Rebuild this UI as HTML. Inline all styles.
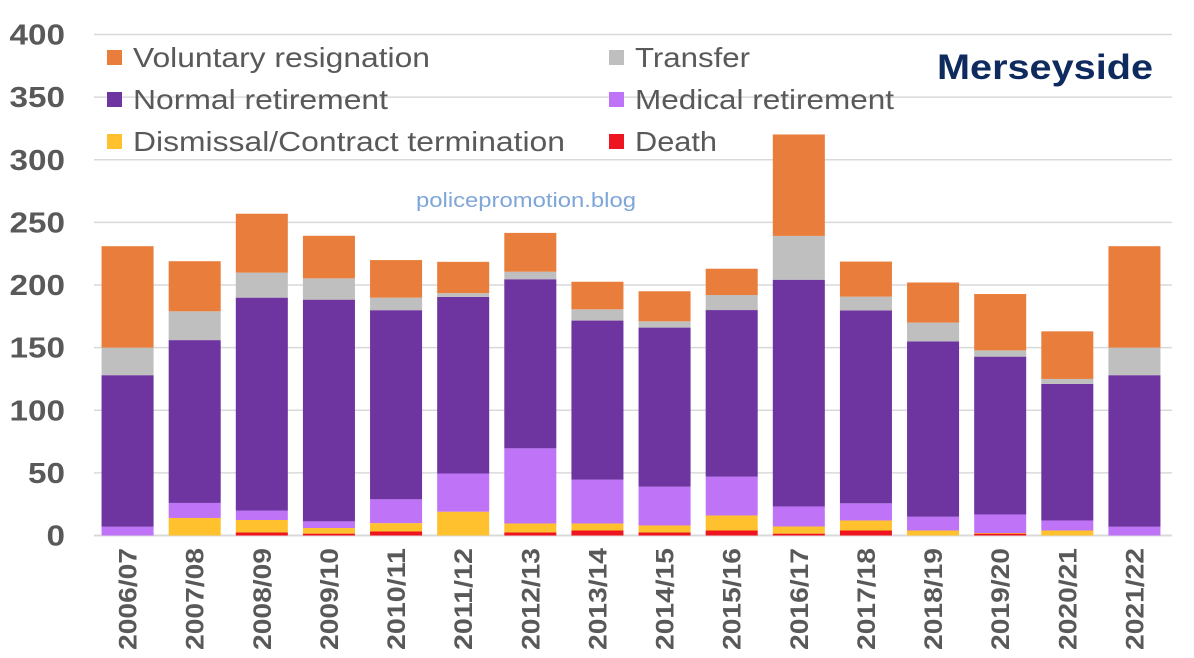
<!DOCTYPE html>
<html><head><meta charset="utf-8"><style>
html,body{margin:0;padding:0;background:#fff;}
svg{display:block;font-family:"Liberation Sans",Arial,sans-serif;}
</style></head><body>
<svg id="chart" width="1194" height="658" viewBox="0 0 1194 658" xmlns="http://www.w3.org/2000/svg">
<g id="grid"></g>
<g id="yticks"></g>
<g id="bars"></g>
<g id="xticks"></g>
<g id="legend"></g>
<text x="937" y="79" font-size="35" font-weight="bold" fill="#0E2A5E" textLength="216" lengthAdjust="spacingAndGlyphs">Merseyside</text>
<text x="416" y="207" font-size="20" fill="#7FA6D8" textLength="220" lengthAdjust="spacingAndGlyphs">policepromotion.blog</text>
</svg>
<script>
const categories=["2006/07","2007/08","2008/09","2009/10","2010/11","2011/12","2012/13","2013/14","2014/15","2015/16","2016/17","2017/18","2018/19","2019/20","2020/21","2021/22"];
const death=[0,0,2.4,1.5,3.2,0,2.4,4,2.4,4,1.5,4,0,1.5,0,0];
const dismissal=[0,14,10,4.5,6.7,19,7.2,5.6,5.6,12,5.7,8,4,0.5,4,0];
const medical=[7,12,7.5,5.3,19,30.5,60,35,31,31,16,13.7,11,14.8,8,7];
const normal=[121,130,170,177,151,141,135,127,127,133,181,154,140,126,109,121];
const transfer=[22,23,20,17,10,3,6,9,5,12,35,11,15,5,4,22];
const voluntary=[81,40,47,34,30,25,31,22,24,21,81,28,32,45,38,81];
const yTicks=[0,50,100,150,200,250,300,350,400];
const seriesNames=["Voluntary resignation","Transfer","Normal retirement","Medical retirement","Dismissal/Contract termination","Death"];

const NS="http://www.w3.org/2000/svg";
const X0=94,X1=1168,Y0=535.5,Y400=34.5;
const band=(X1-X0)/categories.length, bw=band*0.775;
function y(v){return Y0-(v/400)*(Y0-Y400);}
function xc(i){return X0+band*(i+0.5);}
function mk(tag,attrs,parent){const e=document.createElementNS(NS,tag);for(const k in attrs)e.setAttribute(k,attrs[k]);parent.appendChild(e);return e;}

const grid=document.getElementById('grid'),yt=document.getElementById('yticks');
yTicks.forEach(t=>{
  const l=mk('line',{x1:X0,x2:X1+4,y1:y(t),y2:y(t),stroke:'#D9D9D9','stroke-width':t===0?2:1.5},grid);
  
  
  const w=String(t).length*18.5;
  const tx=mk('text',{x:65-w,y:y(t)+10,'font-size':29,'font-weight':'bold',fill:'#595959',textLength:w,lengthAdjust:'spacingAndGlyphs'},yt);
  tx.textContent=t;
  
  
});

const stacks=[[death,'#EE1520','death'],[dismissal,'#FFC12E','dismissal'],[medical,'#BF73F7','medical-retirement'],[normal,'#6E34A0','normal-retirement'],[transfer,'#BFBFBF','transfer'],[voluntary,'#E97E3C','voluntary-resignation']];
const bars=document.getElementById('bars'),xt=document.getElementById('xticks');
categories.forEach((c,i)=>{
  let acc=0;
  stacks.forEach(([arr,col,nm])=>{
    const v=arr[i];
    if(v>0){
      const r=mk('rect',{x:xc(i)-bw/2,y:y(acc+v),width:bw,height:y(acc)-y(acc+v),fill:col},bars);
      
      
    }
    acc+=v;
  });
  const t=mk('text',{transform:`translate(${xc(i)+9},650) rotate(-90)`,'font-size':25,'font-weight':'bold',fill:'#595959',textLength:102,lengthAdjust:'spacingAndGlyphs'},xt);
  t.textContent=c;
  
  
});

const leg=document.getElementById('legend');
const legCols=['#E97E3C','#BFBFBF','#6E34A0','#BF73F7','#FFC12E','#EE1520'];
const legW=[297,115,255,259,432,82];
seriesNames.forEach((n,k)=>{
  const col=k%2, row=Math.floor(k/2);
  const lx=col===0?104:606, ly=57+row*42;
  const g=mk('g',{},leg);
  
  
  mk('rect',{x:lx+3,y:ly-7,width:15,height:15,fill:legCols[k]},g);
  const t=mk('text',{x:lx+29,y:ly+10,'font-size':28,fill:'#595959',textLength:legW[k],lengthAdjust:'spacingAndGlyphs'},g);
  t.textContent=n;
});
</script>
</body></html>
